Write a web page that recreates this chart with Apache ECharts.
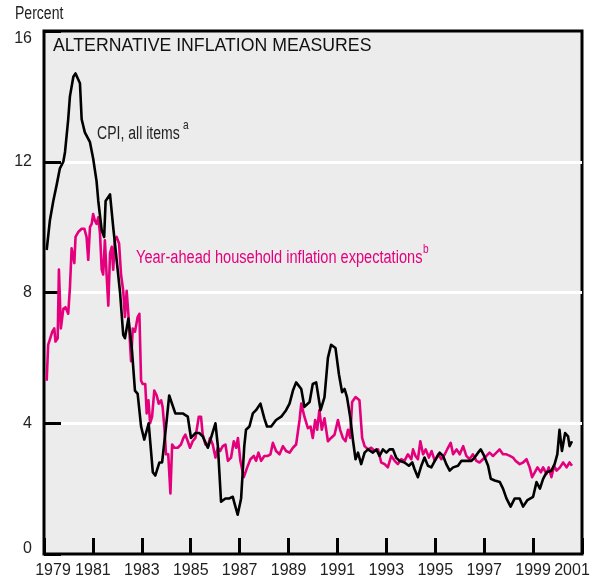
<!DOCTYPE html>
<html>
<head>
<meta charset="utf-8">
<script src="https://cdn.jsdelivr.net/npm/echarts@6/dist/echarts.min.js"></script>
<style>
  html, body { margin: 0; padding: 0; background: #fff; }
  #chart { width: 600px; height: 584px; }
</style>
</head>
<body>
<div id="chart"></div>
<script>
// Values: [year, percent]
let cpi = [
  [1979.11, 9.3], [1979.24, 10.2], [1979.38, 10.8], [1979.52, 11.3], [1979.65, 11.8],
  [1979.79, 12.0], [1979.86, 12.3], [1979.99, 13.3], [1980.06, 14.0], [1980.20, 14.6],
  [1980.29, 14.7], [1980.47, 14.4], [1980.54, 13.3], [1980.67, 12.9], [1980.88, 12.6],
  [1981.01, 12.1], [1981.15, 11.4], [1981.22, 10.8], [1981.36, 9.9], [1981.46, 9.7],
  [1981.52, 10.8], [1981.70, 11.0], [1981.83, 10.0], [1981.97, 9.0], [1982.11, 8.0],
  [1982.24, 6.7], [1982.31, 6.6], [1982.45, 7.2], [1982.59, 6.3], [1982.72, 5.0],
  [1982.83, 4.9], [1982.97, 3.9], [1983.10, 3.5], [1983.28, 4.0], [1983.45, 2.5],
  [1983.55, 2.4], [1983.72, 2.8], [1983.83, 2.8], [1983.99, 3.9], [1984.12, 4.85],
  [1984.19, 4.9], [1984.37, 4.3], [1984.67, 4.3], [1984.88, 4.2], [1985.01, 3.55],
  [1985.19, 3.7], [1985.35, 3.7], [1985.49, 3.6], [1985.70, 3.25], [1985.83, 3.55],
  [1986.01, 4.0], [1986.11, 3.3], [1986.24, 1.6], [1986.42, 1.7], [1986.58, 1.7],
  [1986.72, 1.75], [1986.79, 1.55], [1986.92, 1.2], [1987.06, 1.7], [1987.19, 3.3],
  [1987.26, 3.8], [1987.40, 3.9], [1987.54, 4.3], [1987.67, 4.4], [1987.85, 4.6],
  [1988.01, 4.15], [1988.12, 3.9], [1988.29, 3.9], [1988.49, 4.1], [1988.70, 4.2],
  [1988.90, 4.4], [1989.04, 4.6], [1989.18, 5.0], [1989.31, 5.25], [1989.52, 5.05],
  [1989.65, 4.5], [1989.86, 4.65], [1989.99, 5.2], [1990.13, 5.25], [1990.31, 4.4],
  [1990.47, 4.8], [1990.61, 6.0], [1990.74, 6.4], [1990.92, 6.3], [1991.06, 5.5],
  [1991.19, 4.95], [1991.29, 5.05], [1991.39, 4.8], [1991.52, 4.2], [1991.63, 3.5],
  [1991.74, 2.9], [1991.84, 3.1], [1991.97, 2.75], [1992.11, 3.1], [1992.25, 3.2],
  [1992.45, 3.1], [1992.59, 3.2], [1992.72, 3.0], [1992.86, 3.2], [1993.00, 3.1],
  [1993.13, 3.2], [1993.27, 3.2], [1993.40, 2.95], [1993.54, 2.85], [1993.74, 2.8],
  [1993.92, 2.7], [1994.06, 2.8], [1994.15, 2.6], [1994.29, 2.35], [1994.43, 2.7],
  [1994.56, 2.95], [1994.70, 2.7], [1994.84, 2.65], [1994.98, 2.85], [1995.18, 3.1],
  [1995.32, 3.0], [1995.45, 2.75], [1995.59, 2.55], [1995.73, 2.65], [1995.93, 2.7],
  [1996.07, 2.85], [1996.27, 2.85], [1996.48, 2.85], [1996.61, 2.95], [1996.75, 3.1],
  [1996.86, 3.2], [1997.00, 3.0], [1997.16, 2.7], [1997.27, 2.3], [1997.43, 2.25],
  [1997.64, 2.2], [1997.77, 2.0], [1997.91, 1.7], [1998.08, 1.45], [1998.25, 1.7],
  [1998.45, 1.7], [1998.59, 1.45], [1998.77, 1.65], [1999.00, 1.75], [1999.14, 2.2],
  [1999.28, 2.0], [1999.41, 2.3], [1999.55, 2.5], [1999.75, 2.55], [1999.88, 2.75],
  [1999.99, 3.05], [2000.08, 3.8], [2000.18, 3.15], [2000.31, 3.7], [2000.43, 3.6],
  [2000.49, 3.3], [2000.59, 3.45]
];

let expectations = [
  [1979.11, 5.3], [1979.17, 6.4], [1979.24, 6.4], [1979.34, 6.8], [1979.42, 6.9],
  [1979.47, 6.5], [1979.56, 6.6], [1979.61, 8.7], [1979.69, 6.9], [1979.79, 7.5],
  [1979.88, 7.55], [1979.99, 7.35], [1980.06, 8.15], [1980.13, 9.35], [1980.24, 8.9],
  [1980.29, 9.7], [1980.40, 9.85], [1980.54, 9.95], [1980.65, 9.95], [1980.74, 9.7],
  [1980.81, 9.0], [1980.88, 10.0], [1980.95, 10.1], [1981.01, 10.4], [1981.08, 10.2],
  [1981.15, 10.1], [1981.22, 10.3], [1981.29, 9.8], [1981.36, 8.7], [1981.42, 8.55],
  [1981.49, 9.6], [1981.56, 8.55], [1981.63, 7.6], [1981.70, 9.2], [1981.77, 9.4],
  [1981.83, 8.7], [1981.90, 9.6], [1981.97, 9.7], [1982.07, 9.5], [1982.15, 8.55],
  [1982.24, 8.05], [1982.31, 7.25], [1982.38, 8.05], [1982.45, 7.35], [1982.56, 5.9],
  [1982.63, 6.9], [1982.72, 6.8], [1982.83, 7.25], [1982.90, 7.35], [1982.97, 5.3],
  [1983.04, 5.2], [1983.14, 5.2], [1983.20, 4.3], [1983.27, 4.7], [1983.34, 4.0],
  [1983.42, 4.2], [1983.51, 5.0], [1983.61, 4.85], [1983.69, 4.6], [1983.79, 4.7],
  [1983.85, 4.5], [1983.92, 3.9], [1983.99, 3.05], [1984.08, 3.05], [1984.17, 1.85],
  [1984.24, 3.35], [1984.33, 3.25], [1984.47, 3.25], [1984.60, 3.35], [1984.70, 3.55],
  [1984.78, 3.65], [1984.88, 3.45], [1984.97, 3.25], [1985.08, 3.45], [1985.19, 3.55],
  [1985.33, 4.2], [1985.42, 4.2], [1985.49, 3.65], [1985.60, 3.35], [1985.70, 3.3],
  [1985.79, 3.55], [1985.90, 3.35], [1986.01, 2.95], [1986.11, 3.25], [1986.20, 3.15],
  [1986.31, 3.3], [1986.42, 3.35], [1986.52, 2.85], [1986.65, 2.95], [1986.76, 3.45],
  [1986.86, 3.25], [1986.93, 3.55], [1987.03, 2.85], [1987.17, 2.35], [1987.31, 2.65],
  [1987.44, 2.9], [1987.58, 3.0], [1987.67, 2.85], [1987.77, 3.1], [1987.88, 2.85],
  [1988.01, 3.0], [1988.15, 3.0], [1988.26, 3.05], [1988.36, 3.4], [1988.49, 3.15],
  [1988.63, 3.05], [1988.77, 3.3], [1988.90, 3.15], [1989.04, 3.1], [1989.18, 3.25],
  [1989.31, 3.35], [1989.45, 4.1], [1989.52, 4.6], [1989.65, 4.2], [1989.79, 3.85],
  [1989.90, 3.9], [1989.99, 3.55], [1990.09, 4.1], [1990.17, 3.8], [1990.26, 4.4],
  [1990.36, 3.8], [1990.47, 4.15], [1990.61, 3.45], [1990.65, 3.5], [1990.74, 3.55],
  [1990.88, 3.65], [1991.02, 4.1], [1991.11, 3.8], [1991.22, 3.55], [1991.33, 3.45],
  [1991.43, 3.8], [1991.52, 3.55], [1991.60, 4.65], [1991.74, 4.8], [1991.90, 4.7],
  [1992.01, 3.55], [1992.11, 3.3], [1992.25, 3.2], [1992.38, 3.25], [1992.52, 3.15],
  [1992.66, 3.2], [1992.79, 2.8], [1992.93, 2.75], [1993.06, 2.65], [1993.20, 3.0],
  [1993.34, 2.85], [1993.47, 2.75], [1993.61, 2.9], [1993.74, 2.85], [1993.88, 3.05],
  [1994.02, 2.9], [1994.09, 3.2], [1994.19, 3.0], [1994.29, 2.9], [1994.39, 3.45],
  [1994.50, 3.05], [1994.61, 3.2], [1994.74, 2.95], [1994.85, 3.15], [1994.98, 2.85],
  [1995.12, 3.05], [1995.25, 2.9], [1995.39, 3.05], [1995.52, 3.25], [1995.63, 3.4],
  [1995.73, 3.05], [1995.87, 3.2], [1996.00, 3.05], [1996.14, 3.3], [1996.27, 3.0],
  [1996.40, 2.9], [1996.54, 3.05], [1996.68, 2.85], [1996.81, 2.8], [1996.95, 2.9],
  [1997.09, 3.0], [1997.22, 3.1], [1997.36, 3.0], [1997.50, 3.1], [1997.63, 3.2],
  [1997.77, 3.05], [1997.91, 3.05], [1998.05, 3.0], [1998.18, 2.95], [1998.28, 2.85],
  [1998.45, 2.75], [1998.59, 2.8], [1998.73, 2.9], [1998.86, 2.65], [1998.96, 2.35],
  [1999.07, 2.5], [1999.18, 2.65], [1999.32, 2.5], [1999.41, 2.65], [1999.55, 2.45],
  [1999.64, 2.65], [1999.75, 2.35], [1999.86, 2.7], [1999.96, 2.55], [2000.10, 2.65],
  [2000.23, 2.8], [2000.37, 2.65], [2000.49, 2.8], [2000.59, 2.7]
];

let yearMin = 1979;
let yearMax = 2001;
let percentMax = 16;

const sans = '"Liberation Sans", Arial, sans-serif';
const pink = "#e4007c";

let chart = echarts.init(document.getElementById("chart"), null, { renderer: "canvas" });

// condensed-looking labels: regular font squeezed horizontally
let squeezed = (text, left, top, size, color, squeeze) => ({
  type: "text",
  left: left,
  top: top,
  scaleX: squeeze || 0.78,
  style: { text: text, fill: color, font: size + "px " + sans }
});

chart.setOption({
  animation: false,
  grid: {
    left: 44, right: 18, top: 31, bottom: 30,
    show: true,
    backgroundColor: "#ececec",
    borderColor: "#000",
    borderWidth: 3
  },
  xAxis: {
    type: "value",
    min: yearMin,
    max: yearMax,
    interval: 2,
    axisLine: { show: false },
    axisTick: { show: true, inside: true, length: 16, lineStyle: { color: "#000", width: 3 } },
    splitLine: { show: false },
    axisLabel: {
      margin: 9,
      color: "#222",
      fontFamily: sans,
      fontSize: 16,
      showMinLabel: true,
      showMaxLabel: true,
      hideOverlap: false,
      formatter: (v) => {
        if (v === yearMin) return "{l|" + v + "}";
        if (v === yearMax) return "{r|" + v + "}";
        return String(v);
      },
      rich: {
        l: { padding: [0, 0, 0, 18] },
        r: { padding: [0, 20, 0, 0] }
      }
    }
  },
  yAxis: {
    type: "value",
    min: 0,
    max: percentMax,
    interval: 4,
    axisLine: { show: false },
    axisTick: { show: true, inside: true, length: 17, lineStyle: { color: "#000", width: 3 } },
    splitLine: { show: true, showMinLine: false, showMaxLine: false, lineStyle: { color: "#fff", width: 3 } },
    axisLabel: {
      margin: 12,
      color: "#222",
      fontFamily: sans,
      fontSize: 16,
      showMinLabel: true,
      showMaxLabel: true,
      formatter: (v) => {
        if (v === percentMax) return "{t|" + v + "}";
        if (v === 0) return "{b|" + v + "}";
        return String(v);
      },
      rich: {
        t: { padding: [16, 0, 0, 0] },
        b: { padding: [0, 0, 10, 0] }
      }
    }
  },
  graphic: [
    squeezed("Percent", 15, 5, 18, "#222"),
    { type: "text", left: 53, top: 37, style: { text: "ALTERNATIVE INFLATION MEASURES", fill: "#111", font: "17.7px " + sans } },
    squeezed("CPI, all items", 97, 125, 18, "#222"),
    squeezed("a", 183, 119, 13, "#222"),
    squeezed("Year-ahead household inflation expectations", 136, 249, 18, pink, 0.81),
    squeezed("b", 423, 243, 13, pink)
  ],
  series: [
    {
      name: "Year-ahead household inflation expectations",
      type: "line",
      data: expectations,
      showSymbol: false,
      lineStyle: { color: pink, width: 2.6, join: "round" },
      z: 3
    },
    {
      name: "CPI, all items",
      type: "line",
      data: cpi,
      showSymbol: false,
      lineStyle: { color: "#000", width: 2.6, join: "round" },
      z: 4
    }
  ]
});
</script>
</body>
</html>
